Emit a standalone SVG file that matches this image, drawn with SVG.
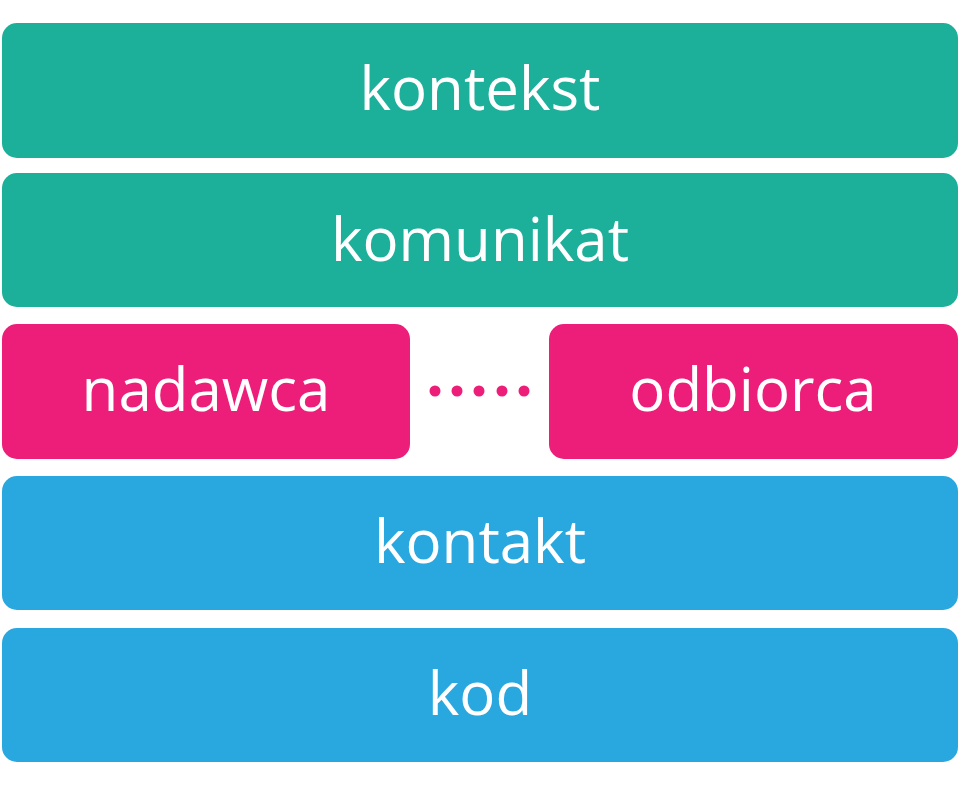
<svg xmlns="http://www.w3.org/2000/svg" width="960" height="785" viewBox="0 0 960 785">
<style>
.green{fill:#1CAF9A}
.pink{fill:#ED1E79}
.blue{fill:#29A8E0}
.lbl{font-family:"Open Sans","Liberation Sans",sans-serif;font-size:60px;fill:#FFFFFF;text-anchor:middle}
</style>
<rect width="960" height="785" fill="#FFFFFF"/>
<g id="kontekst">
<rect class="green" x="2" y="23" width="956" height="135" rx="15"/>
<text class="lbl" x="480" y="110">kontekst</text>
</g>
<g id="komunikat">
<rect class="green" x="2" y="173" width="956" height="134" rx="15"/>
<text class="lbl" x="480" y="261">komunikat</text>
</g>
<g id="nadawca">
<rect class="pink" x="2" y="324" width="408" height="135" rx="15"/>
<text class="lbl" x="206" y="411">nadawca</text>
</g>
<g id="odbiorca">
<rect class="pink" x="549" y="324" width="409" height="135" rx="15"/>
<text class="lbl" x="753" y="411">odbiorca</text>
</g>
<g id="connectors">
<g class="pink">
<circle cx="435" cy="391" r="5.5"/>
<circle cx="457" cy="391" r="5.5"/>
<circle cx="479" cy="391" r="5.5"/>
<circle cx="502" cy="391" r="5.5"/>
<circle cx="524" cy="391" r="5.5"/>
</g>
</g>
<g id="kontakt">
<rect class="blue" x="2" y="476" width="956" height="134" rx="15"/>
<text class="lbl" x="480" y="563">kontakt</text>
</g>
<g id="kod">
<rect class="blue" x="2" y="628" width="956" height="134" rx="15"/>
<text class="lbl" x="480" y="715">kod</text>
</g>
</svg>
